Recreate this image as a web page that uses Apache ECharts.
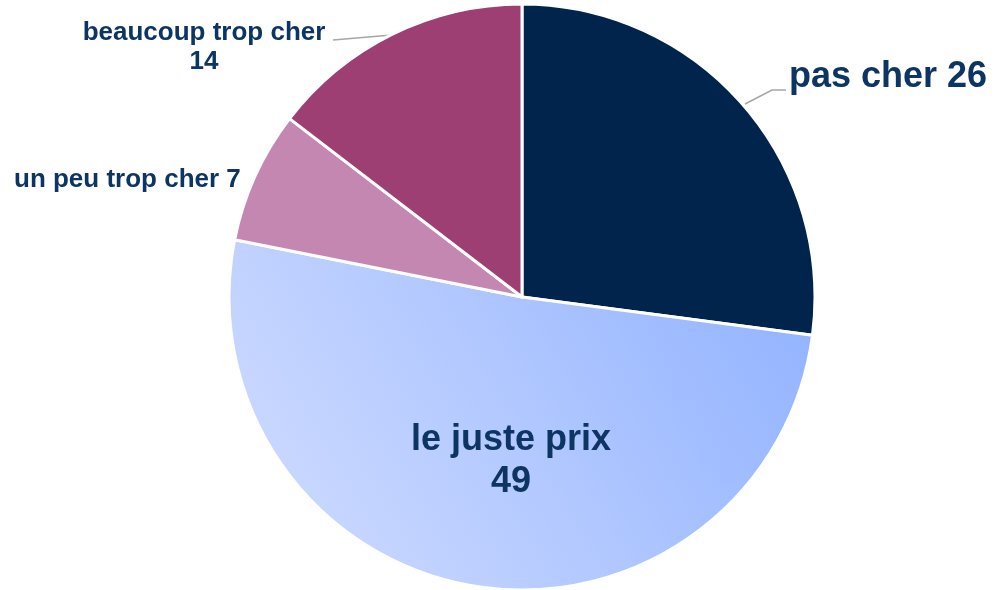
<!DOCTYPE html>
<html>
<head>
<meta charset="utf-8">
<script src="https://cdn.jsdelivr.net/npm/echarts@6/dist/echarts.min.js"></script>
<style>
  html, body { margin: 0; padding: 0; background: #fff; }
  #chart { width: 997px; height: 590px; }
</style>
</head>
<body>
<div id="chart"></div>
<script>
// data
var categories = ['pas cher', 'le juste prix', 'un peu trop cher', 'beaucoup trop cher'];
var values = [26, 49, 7, 14];

var textColor = '#0d3563';
var sliceColors = [
  '#00244c',
  new echarts.graphic.LinearGradient(1, 0, 0, 1, [
    { offset: 0, color: '#8fb1ff' },
    { offset: 1, color: '#d3deff' }
  ]),
  '#c487b2',
  '#9e3f74'
];

// label placement (pixels) and leader lines
var labelPos = [
  { x: 789, y: 77, align: 'left', line: [[745, 104], [772, 90], [786, 90]] },
  { x: 511, y: 461, align: 'center' },
  { x: 14, y: 180, align: 'left' },
  { x: 204, y: 47, align: 'center', line: [[392, 35], [333, 40]] }
];
var labelText = [
  'pas cher 26',
  'le juste prix\n49',
  'un peu trop cher 7',
  'beaucoup trop cher\n14'
];
var labelSize = [36, 36, 26, 26];
var labelLineHeight = [40, 42, 28, 29];

var chartDom = document.getElementById('chart');
var myChart = echarts.init(chartDom);

var option = {
  animation: false,
  series: [{
    type: 'pie',
    center: [522, 297],
    radius: 293,
    startAngle: 90,
    clockwise: true,
    avoidLabelOverlap: false,
    data: categories.map(function (c, i) {
      return {
        name: c,
        value: values[i],
        itemStyle: { color: sliceColors[i] },
        label: {
          formatter: labelText[i],
          fontSize: labelSize[i],
          lineHeight: labelLineHeight[i]
        },
        labelLine: { show: !!labelPos[i].line }
      };
    }),
    itemStyle: { borderColor: '#fff', borderWidth: 3 },
    label: {
      show: true,
      position: 'outside',
      color: textColor,
      fontWeight: 'bold',
      fontFamily: 'Liberation Sans, Arial, sans-serif'
    },
    labelLine: {
      lineStyle: { color: '#a6a6a6', width: 1.5 }
    },
    labelLayout: function (params) {
      var p = labelPos[params.dataIndex];
      var res = { x: p.x, y: p.y, align: p.align, verticalAlign: 'middle' };
      if (p.line) res.labelLinePoints = p.line;
      return res;
    },
    emphasis: { disabled: true }
  }]
};

myChart.setOption(option);
</script>
</body>
</html>
